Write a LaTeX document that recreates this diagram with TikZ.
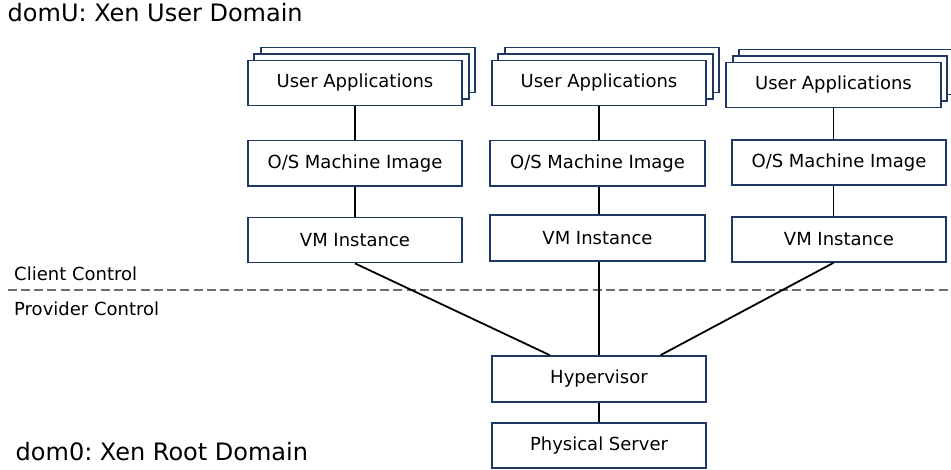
\documentclass[tikz,border=0pt]{standalone}
\usepackage{fontspec}
\setmainfont{DejaVu Sans}
\usetikzlibrary{calc}
\frenchspacing
\definecolor{navy}{RGB}{31,56,100}
\definecolor{dashgray}{RGB}{110,110,110}
\tikzset{
  box/.style={draw=navy, line width=1.8pt, fill=white, minimum width=214.5pt,
    minimum height=45pt, inner sep=0pt, font=\fontsize{18}{21}\selectfont},
  stackbox/.style={draw=navy, line width=1.8pt, fill=white},
  link/.style={draw=black, line width=1.8pt},
  lbl/.style={inner sep=0pt, anchor=base west, font=\fontsize{18}{21}\selectfont},
  biglbl/.style={inner sep=0pt, anchor=base west, font=\fontsize{24}{28}\selectfont},
  sep/.style={draw=dashgray, line width=2pt, dash pattern=on 9pt off 4.3pt}
}
\begin{document}
\begin{tikzpicture}[x=1pt,y=-1pt]
\useasboundingbox (0,0) rectangle (951,469);
% separator
\coordinate (sepL) at (7.5,289.5);
\coordinate (sepR) at (951,289.5);
\draw[sep] (sepL) -- (sepR);
% labels
\node[biglbl] (domU) at (7.5,21.7) {domU: Xen User Domain};
\node[biglbl] (dom0) at (15.5,460.7) {dom0: Xen Root Domain};
\node[lbl] (cc) at (14,280.7) {Client Control};
\node[lbl] (pc) at (14,315.5) {Provider Control};
% column 1
\coordinate (ua1c) at (355,83);
\foreach \k in {2,1} {
  \draw[stackbox] ($(ua1c)+(-107.25+6.5*\k,-22.5-6.5*\k)$) rectangle ($(ua1c)+(107.25+6.5*\k,22.5-6.5*\k)$);
}
\node[box] (ua1) at (ua1c) {User Applications};
\node[box, minimum height=45.5pt] (os1) at (355,163.25) {O/S Machine Image};
\node[box] (vm1) at (355,240) {VM Instance};
% column 2
\coordinate (ua2c) at (599,83);
\foreach \k in {2,1} {
  \draw[stackbox] ($(ua2c)+(-107.25+6.5*\k,-22.5-6.5*\k)$) rectangle ($(ua2c)+(107.25+6.5*\k,22.5-6.5*\k)$);
}
\node[box] (ua2) at (ua2c) {User Applications};
\node[box, minimum height=45.5pt] (os2) at (597.5,163.25) {O/S Machine Image};
\node[box, minimum height=45.5pt] (vm2) at (597.5,237.9) {VM Instance};
% column 3
\coordinate (ua3c) at (833.5,85);
\foreach \k in {2,1} {
  \draw[stackbox] ($(ua3c)+(-107.25+6.5*\k,-22.5-6.5*\k)$) rectangle ($(ua3c)+(107.25+6.5*\k,22.5-6.5*\k)$);
}
\node[box] (ua3) at (ua3c) {User Applications};
\node[box] (os3) at (839,162.2) {O/S Machine Image};
\node[box] (vm3) at (839,239.4) {VM Instance};
% provider side
\node[box, minimum height=46pt] (hyp) at (599,379) {Hypervisor};
\node[box] (phy) at (599,445.8) {Physical Server};
% connectors
\draw[link] (ua1.south) -- (os1.north);
\draw[link] (os1.south) -- (vm1.north);
\draw[link] (ua2.south) -- (ua2.south |- os2.north);
\draw[link] (ua2.south |- os2.south) -- (ua2.south |- vm2.north);
\draw[link] (ua3.south) -- (ua3.south |- os3.north);
\draw[link] (ua3.south |- os3.south) -- (ua3.south |- vm3.north);
\draw[link] (vm1.south) -- ($(hyp.north west)!0.272!(hyp.north east)$);
\draw[link] (ua2.south |- vm2.south) -- (ua2.south |- hyp.north);
\draw[link] (ua3.south |- vm3.south) -- ($(hyp.north west)!0.785!(hyp.north east)$);
\draw[link] (hyp.south) -- (phy.north);
\end{tikzpicture}
\end{document}
